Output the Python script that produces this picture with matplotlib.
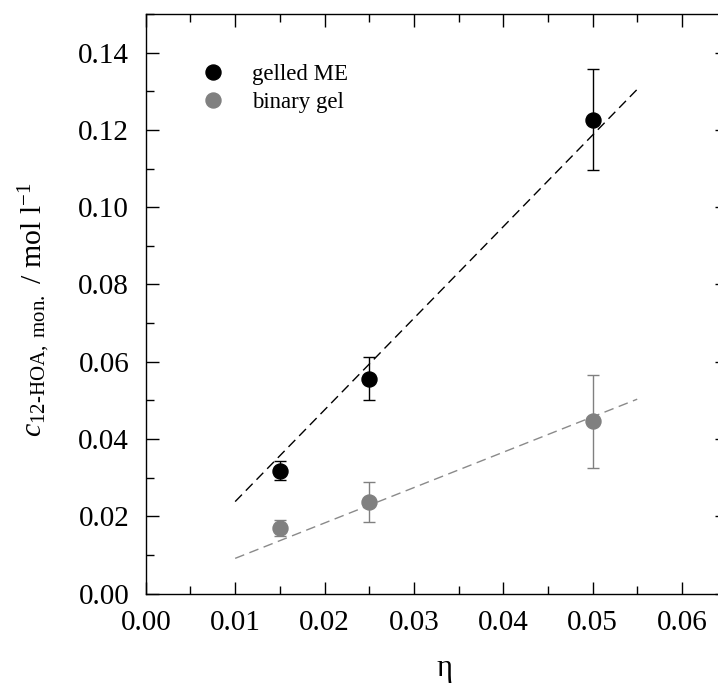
import matplotlib
matplotlib.use("Agg")
import matplotlib.pyplot as plt
from matplotlib.ticker import FixedLocator, FormatStrFormatter, MultipleLocator

plt.rcParams['font.family'] = ['Liberation Serif', 'DejaVu Serif']
plt.rcParams['mathtext.fontset'] = 'custom'
plt.rcParams['mathtext.rm'] = 'Liberation Serif'
plt.rcParams['mathtext.it'] = 'Liberation Serif:italic'

# Measured concentrations vs. eta
eta = [0.015, 0.025, 0.05]
gelled_me = [0.0318, 0.0556, 0.1226]
gelled_me_err = [0.0024, 0.0056, 0.0131]
binary_gel = [0.0169, 0.0236, 0.0446]
binary_gel_err = [0.0021, 0.0052, 0.0120]

# Linear fit lines (end points)
fit_eta = [0.01, 0.055]
fit_gelled_me = [0.0238, 0.1305]
fit_binary_gel = [0.0091, 0.0503]

x_ticks = [0.00, 0.01, 0.02, 0.03, 0.04, 0.05, 0.06]

black = '#000000'
grey = '#808080'

fig = plt.figure(figsize=(7.18, 6.86), dpi=100)
ax = fig.add_axes([0.2031, 0.1348, 0.8088, 0.8448])

ax.plot(fit_eta, fit_gelled_me, color=black, lw=1.0, dashes=(7, 4))
ax.plot(fit_eta, fit_binary_gel, color='#8a8a8a', lw=1.0, dashes=(7, 4))

ax.errorbar(eta, gelled_me, yerr=gelled_me_err, fmt='o', color=black,
            ms=10.8, elinewidth=1.0, capsize=4.2, capthick=1.0,
            label='gelled ME', zorder=3)
ax.errorbar(eta, binary_gel, yerr=binary_gel_err, fmt='o', color=grey,
            ms=10.8, elinewidth=1.0, capsize=4.2, capthick=1.0,
            label='binary gel', zorder=3)

ax.set_xlim(0, 0.065)
ax.set_ylim(0, 0.15)
ax.xaxis.set_major_locator(FixedLocator(x_ticks))
ax.xaxis.set_minor_locator(MultipleLocator(0.005))
ax.yaxis.set_major_locator(MultipleLocator(0.02))
ax.yaxis.set_minor_locator(MultipleLocator(0.01))
ax.xaxis.set_major_formatter(FormatStrFormatter('%.2f'))
ax.yaxis.set_major_formatter(FormatStrFormatter('%.2f'))
ax.tick_params(which='both', direction='in', top=True, right=True,
               labelsize=21, width=1.0)
ax.tick_params(which='major', length=9, pad=12)
ax.tick_params(which='minor', length=6)
for s in ax.spines.values():
    s.set_linewidth(1.0)

ax.set_xlabel('η', fontsize=22)
ax.xaxis.set_label_coords(0.515, -0.105, transform=ax.transAxes)
ax.set_ylabel(r'$c_{\mathrm{12\text{-}HOA,\ mon.}}$ / mol l$^{-1}$',
              fontsize=21.5)
ax.yaxis.set_label_coords(-0.16, 0.49, transform=ax.transAxes)

h, l = ax.get_legend_handles_labels()
handles = [hh[0] for hh in h]
ax.legend(handles, l, loc='upper left', bbox_to_anchor=(0.076, 0.934),
          frameon=False, fontsize=16.5, handletextpad=1.22, labelspacing=0.30,
          handlelength=1.0, borderpad=0)

fig.savefig('out.png', dpi=100)
